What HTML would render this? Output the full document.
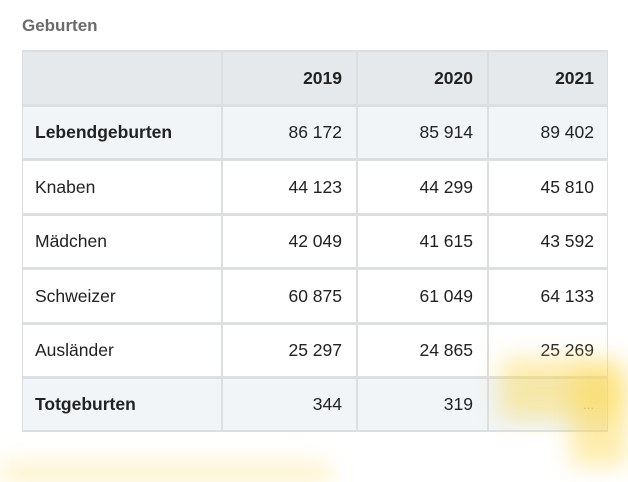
<!DOCTYPE html>
<html><head><meta charset="utf-8"><style>
body{margin:0;width:628px;height:472px;background:#fff;position:relative;overflow:hidden;font-family:"Liberation Sans",sans-serif;color:#222}
.t{position:absolute;left:22px;top:16px;font-size:17px;font-weight:bold;color:#6b6b6b}
.r{position:absolute;left:22px;width:586px;box-sizing:border-box;border:1px solid #dcdfe2;border-top:none}
.c{position:absolute;top:0;height:100%;display:flex;align-items:center;font-size:17.5px;box-sizing:border-box}
.n{justify-content:flex-end;padding-right:14px;border-left:2px solid #dcdfe2}
.l{left:0;width:199px;padding-left:12px}
.b{font-weight:bold}
.y{position:absolute;background:#fcd648;filter:blur(12px);opacity:.45}
</style></head><body>
<div class="t">Geburten</div>
<div class="r" style="top:50px;height:55px;background:#e6e9ec;border-top:2px solid #dcdfe2">
<div class="c l"></div><div class="c n b" style="left:198px;width:135px">2019</div><div class="c n b" style="left:333px;width:131px">2020</div><div class="c n b" style="left:464px;width:121px">2021</div></div>
<div class="r" style="top:105px;height:54px;background:#f1f5f7;border-top:2px solid #dcdfe2">
<div class="c l b">Lebendgeburten</div><div class="c n" style="left:198px;width:135px">86 172</div><div class="c n" style="left:333px;width:131px">85 914</div><div class="c n" style="left:464px;width:121px">89 402</div></div>
<div class="r" style="top:159px;height:55px;border-top:2px solid #dcdfe2">
<div class="c l">Knaben</div><div class="c n" style="left:198px;width:135px">44 123</div><div class="c n" style="left:333px;width:131px">44 299</div><div class="c n" style="left:464px;width:121px">45 810</div></div>
<div class="r" style="top:214px;height:54px;border-top:2px solid #dcdfe2">
<div class="c l">Mädchen</div><div class="c n" style="left:198px;width:135px">42 049</div><div class="c n" style="left:333px;width:131px">41 615</div><div class="c n" style="left:464px;width:121px">43 592</div></div>
<div class="r" style="top:268px;height:55px;border-top:2px solid #dcdfe2">
<div class="c l">Schweizer</div><div class="c n" style="left:198px;width:135px">60 875</div><div class="c n" style="left:333px;width:131px">61 049</div><div class="c n" style="left:464px;width:121px">64 133</div></div>
<div class="r" style="top:323px;height:54px;border-top:2px solid #dcdfe2">
<div class="c l">Ausländer</div><div class="c n" style="left:198px;width:135px">25 297</div><div class="c n" style="left:333px;width:131px">24 865</div><div class="c n" style="left:464px;width:121px">25 269</div></div>
<div class="r" style="top:377px;height:55px;background:#f1f5f7;border-top:2px solid #dcdfe2;border-bottom:2px solid #dcdfe2">
<div class="c l b">Totgeburten</div><div class="c n" style="left:198px;width:135px">344</div><div class="c n" style="left:333px;width:131px">319</div><div class="c n" style="left:464px;width:121px;color:#999;font-size:13px">...</div></div>
<div class="y" style="left:500px;top:358px;width:120px;height:60px"></div>
<div class="y" style="left:570px;top:370px;width:58px;height:95px"></div>
<div class="y" style="left:0;top:464px;width:330px;height:18px;opacity:.35"></div>
</body></html>
